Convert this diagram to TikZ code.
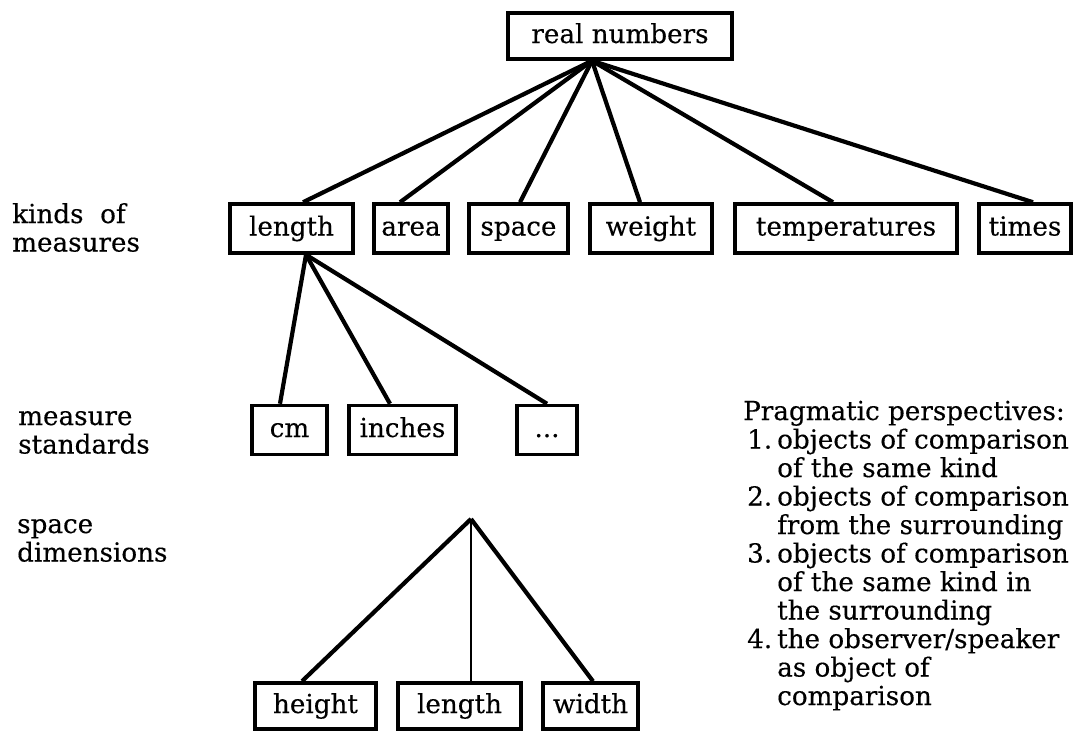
\documentclass[tikz,border=0pt]{standalone}
\usepackage{fontspec}
\setmainfont[FakeBold=0.3]{DejaVu Serif}
\usetikzlibrary{calc}
\tikzset{
  txt/.style={font=\fontsize{26.2}{28.5}\selectfont},
  box/.style={draw, line width=3.5pt, inner sep=0pt, minimum height=49pt,
    text height=19pt, text depth=5pt, txt},
  conn/.style={line width=4.2pt},
  thinconn/.style={line width=2.2pt},
  lbl/.style={anchor=base west, inner sep=0pt, txt}
}
\begin{document}
\begin{tikzpicture}[x=1pt,y=-1pt]
\useasboundingbox (0,0) rectangle (1076,731);
% top
\node[box, minimum width=224pt, minimum height=46pt] (rn) at (620,36) {real numbers};
% row 2
\node[box, minimum width=123pt] (len) at (291.5,228.5) {length};
\node[box, minimum width=74pt] (area) at (411,228.5) {area};
\node[box, minimum width=99pt] (space) at (518.5,228.5) {space};
\node[box, minimum width=122pt] (weight) at (651,228.5) {weight};
\node[box, minimum width=222pt] (temp) at (846,228.5) {temperatures};
\node[box, minimum width=92pt] (times) at (1025,228.5) {times};
% row 3
\node[box, minimum width=75pt] (cm) at (289.5,430) {cm};
\node[box, minimum width=107pt] (inches) at (402.5,430) {inches};
\node[box, minimum width=60pt] (dots) at (547,430) {...};
% bottom row
\node[box, minimum width=121pt, minimum height=46pt] (height) at (315.5,706) {height};
\node[box, minimum width=123pt, minimum height=46pt] (len2) at (459.5,706) {length};
\node[box, minimum width=95pt, minimum height=46pt] (width) at (590.5,706) {width};
\coordinate (sdtop) at (471,519);
% connectors
\draw[conn] ($(rn.south)+(-28,0)$) -- ($(len.north)+(11.5,0)$);
\draw[conn] ($(rn.south)+(-28,0)$) -- ($(area.north)+(-11,0)$);
\draw[conn] ($(rn.south)+(-28,0)$) -- ($(space.north)+(1.5,0)$);
\draw[conn] ($(rn.south)+(-28,0)$) -- ($(weight.north)+(-11,0)$);
\draw[conn] ($(rn.south)+(-28,0)$) -- ($(temp.north)+(-13,0)$);
\draw[conn] ($(rn.south)+(-28,0)$) -- ($(times.north)+(8,0)$);
\draw[conn] ($(len.south)+(14.5,0)$) -- ($(cm.north)+(-9.5,0)$);
\draw[conn] ($(len.south)+(14.5,0)$) -- ($(inches.north)+(-12.5,0)$);
\draw[conn] ($(len.south)+(14.5,0)$) -- (dots.north);
\draw[conn] (sdtop) -- ($(height.north)+(-13.5,0)$);
\draw[thinconn] (sdtop) -- ($(len2.north)+(11.5,0)$);
\draw[conn] (sdtop) -- ($(width.north)+(2.5,0)$);
% left labels
\node[lbl] (kinds) at (12,223) {\begin{tabular}[t]{@{}l@{}}kinds\ \ of\\measures\end{tabular}};
\node[lbl] (stand) at (18,425) {\begin{tabular}[t]{@{}l@{}}measure\\standards\end{tabular}};
\node[lbl] (dims) at (17,533) {\begin{tabular}[t]{@{}l@{}}space\\dimensions\end{tabular}};
% right text
\node[lbl] (prag) at (743,420) {\begin{tabular}[t]{@{}l@{}}
Pragmatic perspectives:\\
\makebox[34pt][l]{\hspace{4pt}1.}objects of comparison\\
\hspace*{34pt}of the same kind\\
\makebox[34pt][l]{\hspace{4pt}2.}objects of comparison\\
\hspace*{34pt}from the surrounding\\
\makebox[34pt][l]{\hspace{4pt}3.}objects of comparison\\
\hspace*{34pt}of the same kind in\\
\hspace*{34pt}the surrounding\\
\makebox[34pt][l]{\hspace{4pt}4.}the observer/speaker\\
\hspace*{34pt}as object of\\
\hspace*{34pt}comparison
\end{tabular}};
\end{tikzpicture}
\end{document}
